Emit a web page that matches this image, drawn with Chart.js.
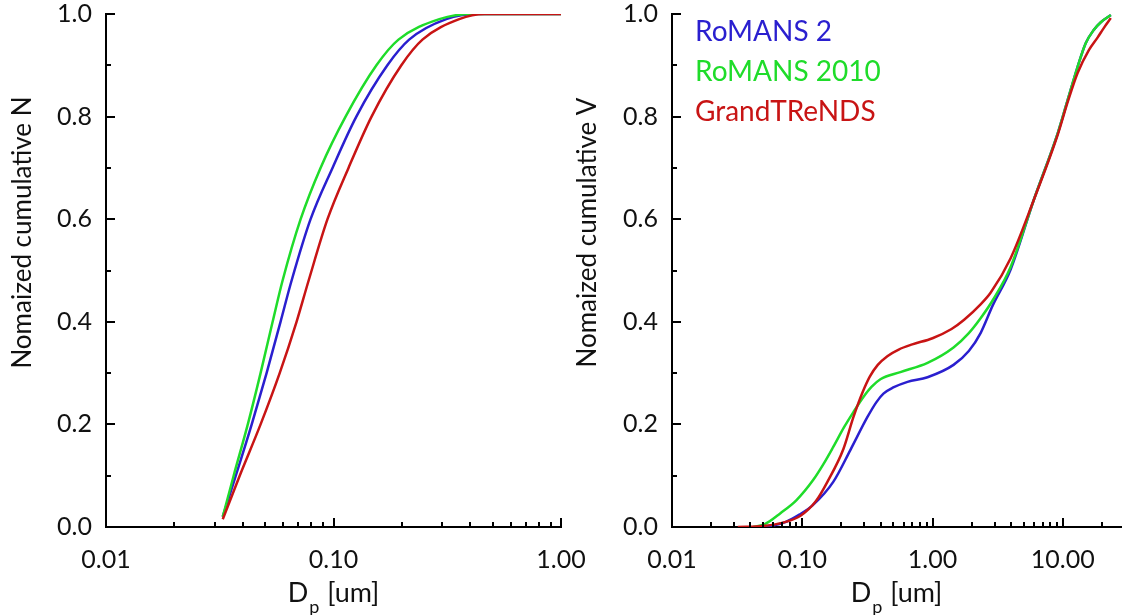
<!DOCTYPE html>
<html>
<head>
<meta charset="utf-8">
<script src="https://cdn.jsdelivr.net/npm/chart.js@4.4.1/dist/chart.umd.min.js"></script>
<style>
  html, body { margin: 0; padding: 0; background: #fff; }
  #wrap { position: relative; width: 1122px; height: 615px; overflow: hidden; }
  #leftBox { position: absolute; left: 0; top: 0; width: 600px; height: 615px; }
  #rightBox { position: absolute; left: 565px; top: 0; width: 557px; height: 615px; }
</style>
</head>
<body>
<div id="wrap">
  <div id="leftBox"><canvas id="numberChart" width="600" height="615"></canvas></div>
  <div id="rightBox"><canvas id="volumeChart" width="557" height="615"></canvas></div>
</div>
<script>
// Cumulative size distributions
const seriesLabels = ['RoMANS 2', 'RoMANS 2010', 'GrandTReNDS'];
const seriesColors = ['#2a1fcf', '#1fdc2a', '#c81414'];

// Left panel: normalized cumulative number
const numDiamRomans2 = [0.0326, 0.0372, 0.0437, 0.0508, 0.0585, 0.0654, 0.0793, 0.0990, 0.126, 0.1725, 0.215, 0.313, 0.428, 1.0];
const numCumRomans2  = [0.02, 0.1, 0.2, 0.3, 0.4, 0.48, 0.6, 0.7, 0.8, 0.9, 0.95, 0.99, 1.0, 1.0];
const numDiamRomans2010 = [0.0326, 0.0364, 0.0420, 0.0478, 0.0540, 0.0597, 0.0717, 0.0877, 0.113, 0.1544, 0.193, 0.292, 0.407, 1.0];
const numCumRomans2010  = [0.02, 0.1, 0.2, 0.3, 0.4, 0.48, 0.6, 0.7, 0.8, 0.9, 0.95, 0.99, 1.0, 1.0];
const numDiamGrand = [0.0326, 0.0387, 0.0478, 0.0580, 0.0688, 0.0777, 0.0941, 0.1164, 0.147, 0.1987, 0.246, 0.357, 0.46, 1.0];
const numCumGrand  = [0.015, 0.1, 0.2, 0.3, 0.4, 0.48, 0.6, 0.7, 0.8, 0.9, 0.95, 0.99, 1.0, 1.0];

// Right panel: normalized cumulative volume
const volDiamRomans2 = [0.045, 0.06, 0.075, 0.095, 0.12, 0.173, 0.234, 0.316, 0.37, 0.42, 0.5, 0.643, 0.916, 1.45, 1.9, 2.34, 2.9, 3.98, 5.98, 9.16, 10.9, 13.0, 15.0, 17.3, 19.6, 23.4];
const volCumRomans2  = [0, 0.003, 0.01, 0.024, 0.042, 0.088, 0.15, 0.214, 0.243, 0.26, 0.272, 0.283, 0.292, 0.316, 0.343, 0.378, 0.432, 0.502, 0.637, 0.768, 0.832, 0.897, 0.943, 0.969, 0.984, 0.998];
const volDiamRomans2010 = [0.042, 0.052, 0.068, 0.09, 0.1216, 0.145, 0.173, 0.21, 0.247, 0.294, 0.34, 0.398, 0.567, 0.916, 1.45, 1.9, 2.34, 2.9, 3.98, 5.98, 9.16, 10.9, 13.0, 15.0, 17.3, 19.6, 23.4];
const volCumRomans2010  = [0, 0.006, 0.027, 0.052, 0.092, 0.122, 0.156, 0.195, 0.224, 0.253, 0.273, 0.288, 0.302, 0.320, 0.35, 0.378, 0.407, 0.442, 0.507, 0.637, 0.768, 0.832, 0.897, 0.943, 0.969, 0.984, 0.998];
const volDiamGrand = [0.032, 0.05, 0.07, 0.097, 0.127, 0.156, 0.207, 0.247, 0.29, 0.33, 0.38, 0.45, 0.55, 0.7, 1.0, 1.4, 1.75, 2.34, 2.8, 3.98, 5.98, 9.16, 10.9, 13.0, 15.9, 18.6, 20.7, 23.4];
const volCumGrand  = [0, 0.002, 0.008, 0.022, 0.05, 0.088, 0.152, 0.214, 0.262, 0.293, 0.316, 0.333, 0.346, 0.356, 0.368, 0.386, 0.404, 0.434, 0.457, 0.524, 0.637, 0.765, 0.828, 0.885, 0.93, 0.955, 0.973, 0.992];

const FONT = "Lato, 'Open Sans', sans-serif";

function isDecade(v) {
	const l = Math.log10(v);
	return Math.abs(l - Math.round(l)) < 1e-6;
}

// inward ticks, axis titles and the text legend
const paperAxes = {
	id: 'paperAxes',
	afterDraw(chart, args, opts) {
		const ctx = chart.ctx;
		const { left, right, top, bottom } = chart.chartArea;
		const xs = chart.scales.x;
		const ys = chart.scales.y;

		ctx.save();
		ctx.strokeStyle = '#000';
		ctx.lineWidth = 2;
		ctx.beginPath();
		const d0 = Math.floor(Math.log10(xs.min));
		const d1 = Math.ceil(Math.log10(xs.max));
		for (let d = d0; d <= d1; d++) {
			for (let m = 1; m <= 9; m++) {
				const v = m * Math.pow(10, d);
				if (v < xs.min * 0.999 || v > xs.max * 1.001) continue;
				const px = Math.round(xs.getPixelForValue(v));
				ctx.moveTo(px, bottom);
				ctx.lineTo(px, bottom - (m === 1 ? 9 : 5));
			}
		}
		ys.ticks.forEach(t => {
			const py = Math.round(ys.getPixelForValue(t.value));
			const major = Math.round(t.value * 10) % 2 === 0;
			ctx.moveTo(left, py);
			ctx.lineTo(left + (major ? 9 : 5), py);
		});
		ctx.stroke();

		ctx.fillStyle = '#111';
		// y title
		ctx.save();
		ctx.translate(23, (top + bottom) / 2 - 38);
		ctx.rotate(-Math.PI / 2);
		ctx.font = '26px ' + FONT;
		ctx.textAlign = 'center';
		ctx.textBaseline = 'middle';
		ctx.fillText(opts.yTitle, 0, 0);
		ctx.restore();

		// x title: D with subscript p
		const bigFont = '27px ' + FONT;
		const subFont = '18px ' + FONT;
		ctx.textBaseline = 'alphabetic';
		ctx.textAlign = 'left';
		ctx.font = bigFont;
		const wD = ctx.measureText('D').width;
		const wRest = ctx.measureText(' [um]').width;
		ctx.font = subFont;
		const wP = ctx.measureText('p').width;
		let x = (left + right) / 2 - (wD + wP + 2 + wRest) / 2;
		const base = 602;
		ctx.font = bigFont;
		ctx.fillText('D', x, base);
		x += wD + 1;
		ctx.font = subFont;
		ctx.fillText('p', x, base + 11);
		x += wP + 1;
		ctx.font = bigFont;
		ctx.fillText(' [um]', x, base);

		if (opts.showLegend) {
			ctx.font = '28px ' + FONT;
			ctx.textBaseline = 'middle';
			chart.data.datasets.forEach((ds, i) => {
				ctx.fillStyle = ds.borderColor;
				ctx.fillText(ds.label, left + 23, top + 18 + i * 40);
			});
		}
		ctx.restore();
	}
};

function buildDatasets(diams, cums) {
	return diams.map((d, i) => ({
		label: seriesLabels[i],
		data: d.map((x, k) => ({ x, y: cums[i][k] })),
		borderColor: seriesColors[i],
		borderWidth: 2.5,
		pointRadius: 0,
		showLine: true,
		fill: false,
		cubicInterpolationMode: 'monotone',
		order: 2 - i
	}));
}

function makeChart(canvasId, datasets, xMax, yWidth, padRight, yTitle, showLegend) {
	const ctx = document.getElementById(canvasId).getContext('2d');
	return new Chart(ctx, {
		type: 'scatter',
		data: { datasets },
		plugins: [paperAxes],
		options: {
			responsive: false,
			animation: false,
			layout: { padding: { top: 14, right: padRight, left: 0, bottom: 0 } },
			plugins: {
				legend: { display: false },
				tooltip: { enabled: false },
				paperAxes: { yTitle, showLegend }
			},
			scales: {
				x: {
					type: 'logarithmic',
					min: 0.01,
					max: xMax,
					grid: { display: false, drawTicks: false },
					border: { display: true, color: '#000', width: 2 },
					ticks: {
						autoSkip: false,
						maxRotation: 0,
						padding: 18,
						color: '#111',
						font: { family: FONT, size: 25 },
						callback: v => isDecade(v) ? Number(v).toFixed(2) : ''
					},
					afterFit: s => { s.height = 88; s.paddingLeft = 0; s.paddingRight = 0; }
				},
				y: {
					min: 0,
					max: 1,
					grid: { display: false, drawTicks: false },
					border: { display: true, color: '#000', width: 2 },
					ticks: {
						stepSize: 0.1,
						autoSkip: false,
						padding: 14,
						color: '#111',
						font: { family: FONT, size: 25 },
						callback: v => Math.round(v * 10) % 2 === 0 ? Number(v).toFixed(1) : ''
					},
					afterFit: s => { s.width = yWidth; s.paddingTop = 0; s.paddingBottom = 0; }
				}
			}
		}
	});
}

makeChart('numberChart',
	buildDatasets([numDiamRomans2, numDiamRomans2010, numDiamGrand], [numCumRomans2, numCumRomans2010, numCumGrand]),
	1, 106, 39, 'Nomaized cumulative N', false);

makeChart('volumeChart',
	buildDatasets([volDiamRomans2, volDiamRomans2010, volDiamGrand], [volCumRomans2, volCumRomans2010, volCumGrand]),
	28, 107, 1, 'Nomaized cumulative V', true);
</script>
</body>
</html>
